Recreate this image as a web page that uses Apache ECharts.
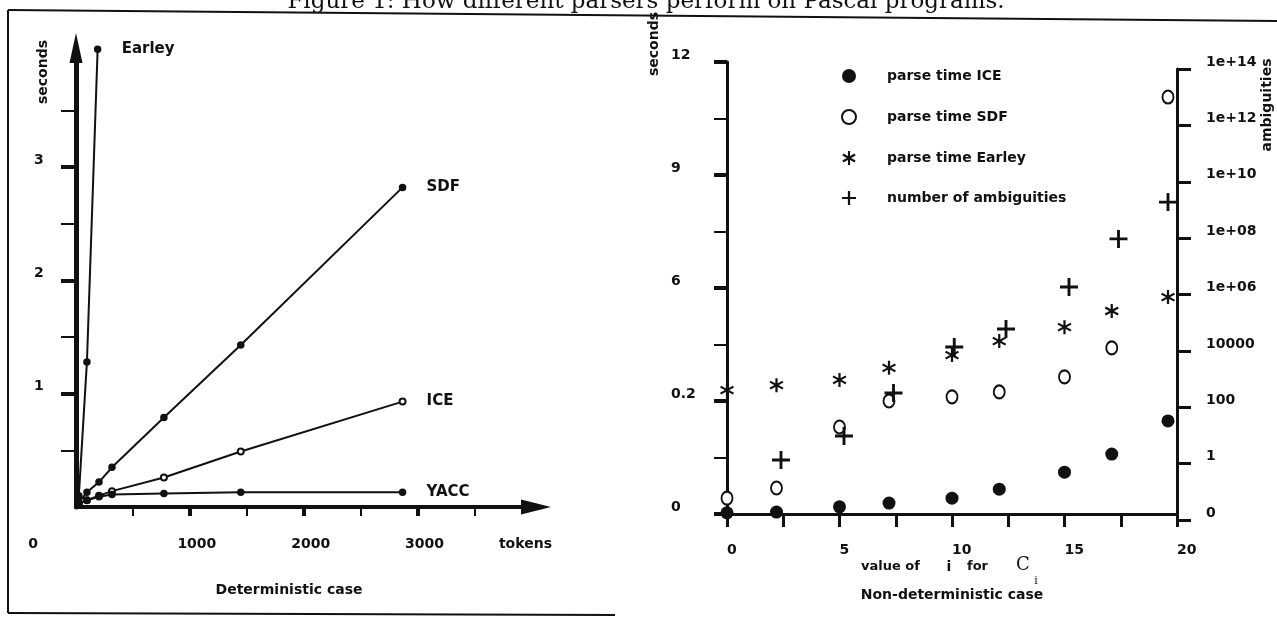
<!DOCTYPE html>
<html><head><meta charset="utf-8">
<script src="https://cdn.jsdelivr.net/npm/echarts@6/dist/echarts.min.js"></script>
<style>html,body{margin:0;padding:0;background:#fff}#c{width:1277px;height:620px}</style>
</head><body><div id="c"></div>
<script>
// ---- Left panel: deterministic case (tokens vs seconds) ----
const detTokens    = [25, 96, 202, 316, 772, 1447, 2868];
const detYacc      = [0.03, 0.06, 0.09, 0.11, 0.12, 0.13, 0.13];
const detIce       = [0.03, 0.06, 0.10, 0.14, 0.26, 0.49, 0.93];
const detSdf       = [0.04, 0.13, 0.22, 0.35, 0.79, 1.43, 2.82];
const earleyTokens = [25, 96, 190];
const detEarley    = [0.10, 1.28, 4.04];
const detXTicks = [1000, 2000, 3000];
const detXMinor = [500, 1500, 2500, 3500];
const detXLabelValues = [0, 1000, 2000, 3000, 4000];
const detXLabels = ['0', '1000', '2000', '3000', 'tokens'];
const detYTicks = [1, 2, 3];
const detYMinor = [0.5, 1.5, 2.5, 3.5];

// ---- Right panel: non-deterministic case (i vs seconds / ambiguities) ----
const iValues  = [0, 2.2, 5, 7.2, 10, 12.1, 15, 17.1, 19.6];
const ndIce    = [0.03, 0.05, 0.19, 0.29, 0.42, 0.66, 1.11, 1.59, 2.47];
const ndSdf    = [0.42, 0.69, 2.31, 3.00, 3.11, 3.24, 3.64, 4.41, 11.07];
const ndEarley = [3.29, 3.42, 3.56, 3.88, 4.22, 4.59, 4.96, 5.39, 5.76];
const ambI     = [2.4, 5.2, 7.4, 10.1, 12.4, 15.2, 17.4, 19.6];
const ambCount = [1.34, 9.6, 320, 13700, 59600, 1.84e6, 9.4e7, 1.9e9];
const secTickValues = [0, 3, 6, 9, 12];
const secTickLabels = ['0', '0.2', '6', '9', '12'];
const secMinor = [1.5, 4.5, 7.5, 10.5];
const iTickValues = [0, 2.5, 5, 7.5, 10, 12.5, 15, 17.5, 20];
const iLabelValues = [0, 5, 10, 15, 20];
const ambTickValues = [0.01, 1, 100, 1e4, 1e6, 1e8, 1e10, 1e12, 1e14];
const ambTickLabels = ['0', '1', '100', '10000', '1e+06', '1e+08', '1e+10', '1e+12', '1e+14'];

const F = 'DejaVu Sans';
const INK = '#111';
const zip = (xs, ys) => xs.map((x, k) => [x, ys[k]]);
const STAR = 'path://M8.5,0H11.5V20H8.5Z M0.59,6.3L2.09,3.7L19.41,13.7L17.91,16.3Z M2.09,16.3L0.59,13.7L17.91,3.7L19.41,6.3Z';
const PLUS = 'path://M8.4,0H11.6V8.4H20V11.6H11.6V20H8.4V11.6H0V8.4H8.4Z';
const lbl = (extra) => Object.assign({color: INK, fontFamily: F, fontWeight: 'bold', fontSize: 14}, extra || {});

function detLine(name, xs, ys, sym) {
  return {
    type: 'line', name, xAxisIndex: 0, yAxisIndex: 0, data: zip(xs, ys),
    symbol: sym, symbolSize: 6, showAllSymbol: true, clip: false, silent: true,
    lineStyle: {color: INK, width: 2},
    itemStyle: {color: INK, borderColor: INK, borderWidth: 1.5, opacity: 1},
    endLabel: lbl({show: true, formatter: () => name, distance: 24, fontSize: 15})
  };
}

const chart = echarts.init(document.getElementById('c'));
chart.setOption({
  animation: false,
  backgroundColor: '#fff',
  grid: [
    {left: 76, top: 48, width: 460, height: 459},
    {left: 727, top: 62, width: 450, height: 452},
    {left: 727, top: 69, width: 450, height: 451}
  ],
  xAxis: [
    { // 0: tokens
      gridIndex: 0, type: 'value', min: 0, max: 4040, position: 'bottom',
      axisLine: {onZero: false, lineStyle: {color: INK, width: 4}, symbol: ['none', 'triangle'], symbolSize: [15, 30]},
      axisTick: {customValues: detXTicks, length: 9, lineStyle: {color: INK, width: 4}},
      axisLabel: lbl({customValues: detXLabelValues, margin: 30,
        formatter: v => {
          const s = detXLabels[detXLabelValues.indexOf(v)];
          if (v === 0) return '{z|' + s + '}';
          if (v === 4000) return '{t|' + s + '}';
          return '{n|' + s + '}';
        },
        rich: {
          z: lbl({padding: [0, 86, 0, 0]}),
          n: lbl({padding: [0, 0, 0, 14]}),
          t: lbl({padding: [0, 12, 0, 0]})
        }}),
      splitLine: {show: false}
    },
    { // 1: tokens minor ticks
      gridIndex: 0, type: 'value', min: 0, max: 4040, position: 'bottom',
      axisLine: {show: false, onZero: false},
      axisTick: {customValues: detXMinor, length: 9, lineStyle: {color: INK, width: 2}},
      axisLabel: {show: false}, splitLine: {show: false}
    },
    { // 2: i
      gridIndex: 1, type: 'value', min: 0, max: 20, position: 'bottom',
      axisLine: {onZero: false, lineStyle: {color: INK, width: 3}},
      axisTick: {customValues: iTickValues, length: 13, lineStyle: {color: INK, width: 3}},
      axisLabel: lbl({customValues: iLabelValues, margin: 29, align: 'left'}),
      splitLine: {show: false}
    },
    { // 3: i for ambiguities (hidden)
      gridIndex: 2, type: 'value', min: 0, max: 20, show: false
    }
  ],
  yAxis: [
    { // 0: seconds (det)
      gridIndex: 0, type: 'value', min: 0, max: 4.05, position: 'left',
      axisLine: {onZero: false, lineStyle: {color: INK, width: 5}, symbol: ['none', 'triangle'], symbolSize: [13, 30]},
      axisTick: {customValues: detYTicks, length: 15, lineStyle: {color: INK, width: 4}},
      axisLabel: lbl({customValues: detYTicks, align: 'left', margin: 42, verticalAlign: 'bottom'}),
      splitLine: {show: false}
    },
    { // 1: seconds minor
      gridIndex: 0, type: 'value', min: 0, max: 4.05, position: 'left',
      axisLine: {show: false, onZero: false},
      axisTick: {customValues: detYMinor, length: 15, lineStyle: {color: INK, width: 2}},
      axisLabel: {show: false}, splitLine: {show: false}
    },
    { // 2: seconds (non-det)
      gridIndex: 1, type: 'value', min: 0, max: 12, position: 'left',
      axisLine: {onZero: false, lineStyle: {color: INK, width: 3}},
      axisTick: {customValues: secTickValues, length: 13, lineStyle: {color: INK, width: 4}},
      axisLabel: lbl({customValues: secTickValues, align: 'left', margin: 56, verticalAlign: 'bottom',
        formatter: v => secTickLabels[secTickValues.indexOf(v)]}),
      splitLine: {show: false}
    },
    { // 3: seconds minor (non-det)
      gridIndex: 1, type: 'value', min: 0, max: 12, position: 'left',
      axisLine: {show: false, onZero: false},
      axisTick: {customValues: secMinor, length: 13, lineStyle: {color: INK, width: 2}},
      axisLabel: {show: false}, splitLine: {show: false}
    },
    { // 4: ambiguities (log)
      gridIndex: 2, type: 'log', logBase: 100, min: 0.01, max: 1e14, splitNumber: 8, position: 'right',
      axisLine: {onZero: false, lineStyle: {color: INK, width: 3}},
      axisTick: {customValues: ambTickValues, length: 14, lineStyle: {color: INK, width: 3}},
      axisLabel: lbl({customValues: ambTickValues, margin: 29, verticalAlign: 'bottom',
        formatter: v => {
          let k = ambTickValues.findIndex(t => Math.abs(Math.log10(t) - Math.log10(v)) < 1e-6);
          return k >= 0 ? ambTickLabels[k] : '';
        }}),
      splitLine: {show: false}
    }
  ],
  legend: {
    data: ['parse time ICE', 'parse time SDF', 'parse time Earley', 'number of ambiguities'],
    orient: 'vertical', left: 836, top: 64, itemWidth: 14, itemHeight: 14, itemGap: 26,
    selectedMode: false,
    textStyle: lbl({padding: [0, 0, 0, 26]})
  },
  series: [
    detLine('Earley', earleyTokens, detEarley, 'circle'),
    detLine('SDF', detTokens, detSdf, 'circle'),
    detLine('ICE', detTokens, detIce, 'emptyCircle'),
    detLine('YACC', detTokens, detYacc, 'circle'),
    {type: 'scatter', name: 'parse time ICE', xAxisIndex: 2, yAxisIndex: 2, data: zip(iValues, ndIce),
      symbol: 'circle', symbolSize: 13, clip: false, itemStyle: {color: INK, opacity: 1}},
    {type: 'scatter', name: 'parse time SDF', xAxisIndex: 2, yAxisIndex: 2, data: zip(iValues, ndSdf),
      symbol: 'emptyCircle', symbolSize: [11, 13], clip: false, itemStyle: {color: INK, borderWidth: 2, opacity: 1}},
    {type: 'scatter', name: 'parse time Earley', xAxisIndex: 2, yAxisIndex: 2, data: zip(iValues, ndEarley),
      symbol: STAR, symbolSize: 14, clip: false, itemStyle: {color: INK, opacity: 1}},
    {type: 'scatter', name: 'number of ambiguities', xAxisIndex: 3, yAxisIndex: 4, data: zip(ambI, ambCount),
      symbol: PLUS, symbolSize: 18, clip: false, itemStyle: {color: INK, opacity: 1}}
  ],
  graphic: [
    {type: 'text', x: 646, y: 2, style: {text: 'Figure 1: How different parsers perform on Pascal programs.',
      fontFamily: 'DejaVu Serif', fontSize: 23, fill: INK, align: 'center', verticalAlign: 'middle'}},
    {type: 'line', shape: {x1: 8, y1: 10, x2: 1277, y2: 21}, style: {stroke: INK, lineWidth: 2}},
    {type: 'line', shape: {x1: 8, y1: 10, x2: 8, y2: 613}, style: {stroke: INK, lineWidth: 2}},
    {type: 'line', shape: {x1: 8, y1: 613, x2: 615, y2: 615}, style: {stroke: INK, lineWidth: 2}},
    {type: 'text', x: 43, y: 72, rotation: Math.PI / 2, style: {text: 'seconds', fontFamily: F, fontWeight: 'bold', fontSize: 14, fill: INK, align: 'center', verticalAlign: 'middle'}},
    {type: 'text', x: 289, y: 590, style: {text: 'Deterministic case', fontFamily: F, fontWeight: 'bold', fontSize: 14, fill: INK, align: 'center', verticalAlign: 'middle'}},
    {type: 'text', x: 654, y: 44, rotation: Math.PI / 2, style: {text: 'seconds', fontFamily: F, fontWeight: 'bold', fontSize: 14, fill: INK, align: 'center', verticalAlign: 'middle'}},
    {type: 'text', x: 1267, y: 105, rotation: Math.PI / 2, style: {text: 'ambiguities', fontFamily: F, fontWeight: 'bold', fontSize: 14, fill: INK, align: 'center', verticalAlign: 'middle'}},
    {type: 'text', x: 861, y: 567, style: {text: 'value of', fontFamily: F, fontWeight: 'bold', fontSize: 13, fill: INK, align: 'left', verticalAlign: 'middle'}},
    {type: 'text', x: 949, y: 567, style: {text: 'i', fontFamily: F, fontWeight: 'bold', fontSize: 14, fill: INK, align: 'center', verticalAlign: 'middle'}},
    {type: 'text', x: 967, y: 567, style: {text: 'for', fontFamily: F, fontWeight: 'bold', fontSize: 13, fill: INK, align: 'left', verticalAlign: 'middle'}},
    {type: 'text', x: 1023, y: 565, style: {text: 'C', fontFamily: 'DejaVu Serif', fontSize: 18, fill: INK, align: 'center', verticalAlign: 'middle'}},
    {type: 'text', x: 1036, y: 581, style: {text: 'i', fontFamily: 'DejaVu Serif', fontSize: 11, fill: INK, align: 'center', verticalAlign: 'middle'}},
    {type: 'text', x: 952, y: 595, style: {text: 'Non-deterministic case', fontFamily: F, fontWeight: 'bold', fontSize: 14, fill: INK, align: 'center', verticalAlign: 'middle'}}
  ]
});
</script></body></html>
